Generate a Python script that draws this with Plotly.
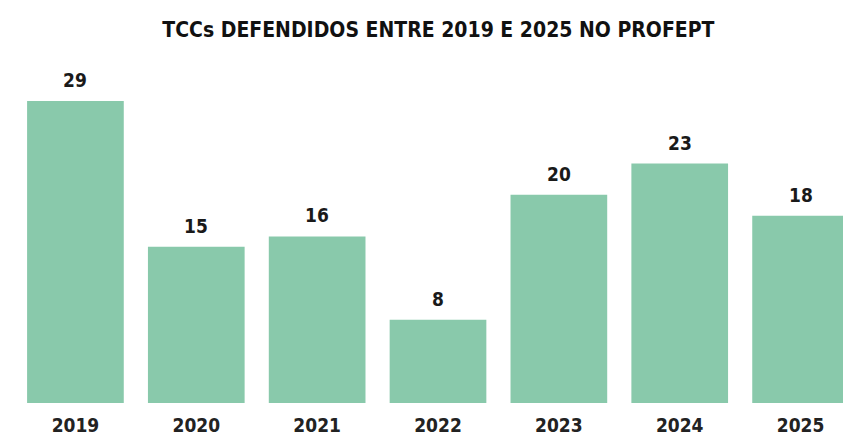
import plotly.graph_objects as go

years = ["2019", "2020", "2021", "2022", "2023", "2024", "2025"]
values = [29, 15, 16, 8, 20, 23, 18]
title_text = "TCCs DEFENDIDOS ENTRE 2019 E 2025 NO PROFEPT"

bar_color = "#89c9ab"
font_family = "DejaVu Sans Condensed, Roboto, sans-serif"

fig = go.Figure(
    go.Bar(
        x=years,
        y=values,
        marker=dict(color=bar_color, line=dict(width=0)),
        hoverinfo="skip",
    )
)

for i, v in enumerate(values):
    fig.add_annotation(
        x=i, y=v, text=f"<b>{v}</b>", showarrow=False,
        yshift=21, font=dict(family=font_family, size=19, color="#1a1a1a"),
        xref="x", yref="y",
    )

fig.update_layout(
    width=843, height=437,
    margin=dict(l=15, r=0, t=60, b=34, autoexpand=False),
    paper_bgcolor="white", plot_bgcolor="white",
    bargap=0.2,
    showlegend=False,
    title=dict(
        text=f"<b>{title_text}</b>", x=0.52, xanchor="center", y=0.932, yanchor="middle",
        font=dict(family=font_family, size=21, color="#111111"),
    ),
    xaxis=dict(
        type="category", range=[-0.5, 6.351], showgrid=False, zeroline=False,
        showline=False, ticks="", ticklabelstandoff=9, automargin=False,
        tickfont=dict(family=font_family, size=19, color="#222222"),
        tickprefix="<b>", ticksuffix="</b>",
    ),
    yaxis=dict(range=[0, 32.95], visible=False),
)

fig.write_html(
    "out.html",
    config={"displayModeBar": False},
    post_script="document.body.style.margin='0';document.body.style.overflow='hidden';",
)
